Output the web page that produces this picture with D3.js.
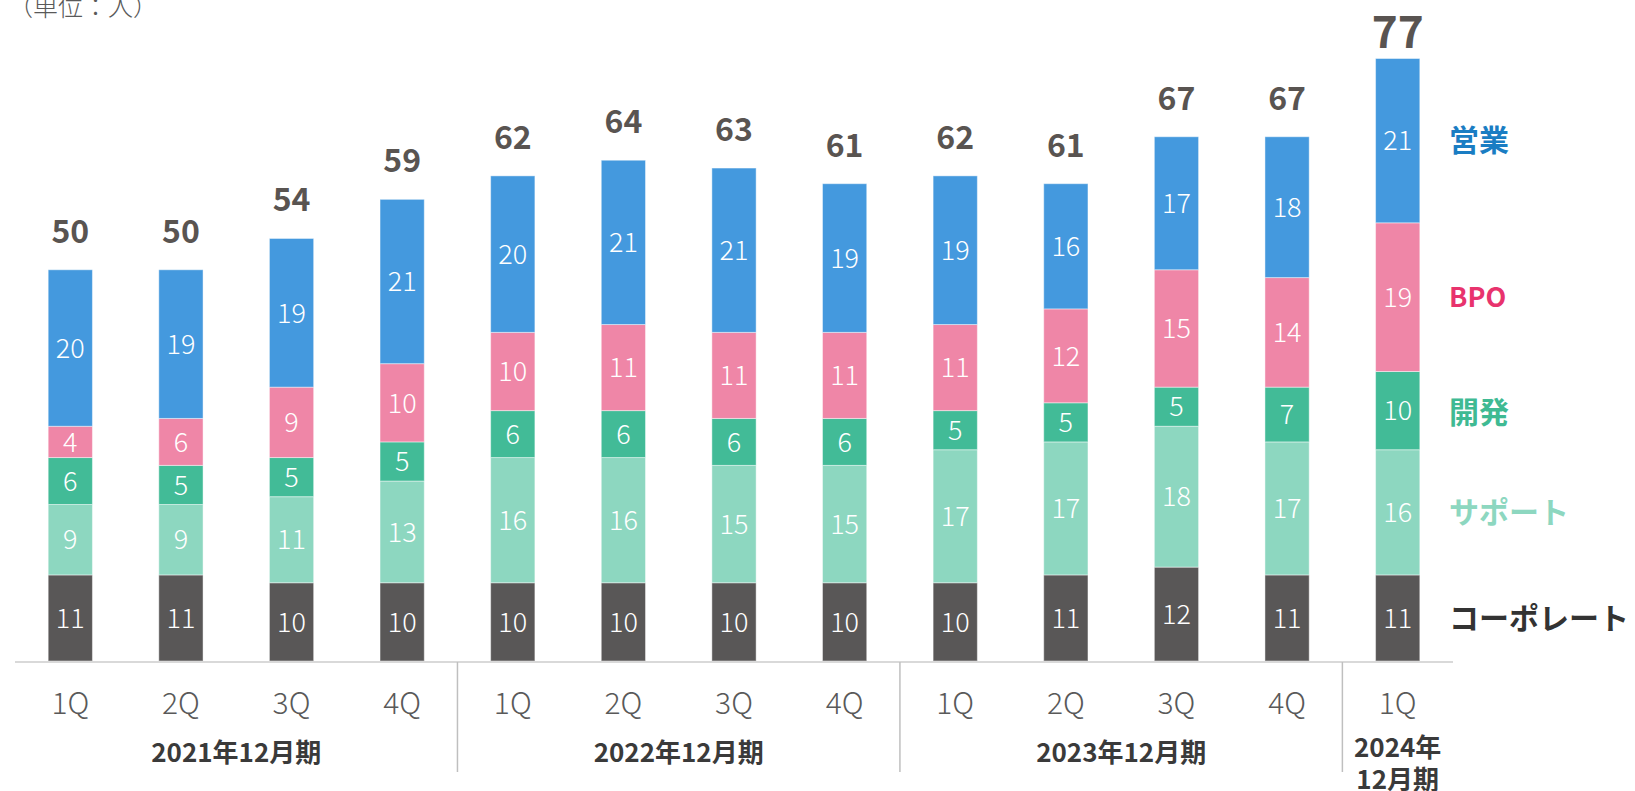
<!DOCTYPE html>
<html>
<head>
<meta charset="utf-8">
<script src="https://cdn.jsdelivr.net/npm/d3@7"></script>
<style>
  body { margin: 0; background: #fff; }
  text { font-family: "Noto Sans CJK JP", "Noto Sans", sans-serif; }
</style>
</head>
<body>
<script>
const quarters = ["1Q", "2Q", "3Q", "4Q", "1Q", "2Q", "3Q", "4Q", "1Q", "2Q", "3Q", "4Q", "1Q"]
const periods = [
    {label: ["2021年12月期"], from: 0, to: 3},
    {label: ["2022年12月期"], from: 4, to: 7},
    {label: ["2023年12月期"], from: 8, to: 11},
    {label: ["2024年", "12月期"], from: 12, to: 12}
]
const seriesNames = ["コーポレート", "サポート", "開発", "BPO", "営業"]
const corporate = [11, 11, 10, 10, 10, 10, 10, 10, 10, 11, 12, 11, 11]
const support   = [9, 9, 11, 13, 16, 16, 15, 15, 17, 17, 18, 17, 16]
const dev       = [6, 5, 5, 5, 6, 6, 6, 6, 5, 5, 5, 7, 10]
const bpo       = [4, 6, 9, 10, 10, 11, 11, 11, 11, 12, 15, 14, 19]
const sales     = [20, 19, 19, 21, 20, 21, 21, 19, 19, 16, 17, 18, 21]

const barColors = ["#595757", "#8dd7c0", "#42bb97", "#ef86a7", "#4499de"]
const legendColors = ["#333333", "#8dd7c0", "#3fba93", "#e8336d", "#1a7dc3"]

let width = 1635, height = 791

let svg = d3.select("body").append("svg")
    .attr("width", width)
    .attr("height", height)

// build rows for stacking
let rows = quarters.map(function (q, i) {
    return {i: i, "コーポレート": corporate[i], "サポート": support[i], "開発": dev[i], "BPO": bpo[i], "営業": sales[i]}
})
let stacked = d3.stack().keys(seriesNames)(rows)
let totals = rows.map(function (r) { return d3.sum(seriesNames, function (k) { return r[k] }) })

let x = d3.scaleBand()
    .domain(d3.range(quarters.length))
    .range([15, 1453])
    .paddingInner(0.6)
    .paddingOuter(0.3)

let y = d3.scaleLinear()
    .domain([0, 77])
    .range([661, 58.5])

// unit label
svg.append("text")
    .attr("x", 8)
    .attr("y", 16)
    .attr("font-size", 25)
    .attr("font-weight", 300)
    .attr("fill", "#595959")
    .text("（単位：人）")

// bars
let layers = svg.selectAll(".layer")
    .data(stacked)
    .enter()
    .append("g")
    .attr("class", "layer")
    .attr("fill", function (d, i) { return barColors[i] })

layers.selectAll("rect")
    .data(function (d) { return d })
    .enter()
    .append("rect")
    .attr("x", function (d, i) { return x(i) })
    .attr("y", function (d) { return y(d[1]) })
    .attr("width", x.bandwidth())
    .attr("height", function (d) { return y(d[0]) - y(d[1]) })
    .attr("stroke", "rgba(255,255,255,0.45)")
    .attr("stroke-width", 1)

// segment values
layers.selectAll("text")
    .data(function (d) { return d })
    .enter()
    .append("text")
    .attr("x", function (d, i) { return x(i) + x.bandwidth() / 2 })
    .attr("y", function (d) { return (y(d[0]) + y(d[1])) / 2 })
    .attr("dy", "0.36em")
    .attr("text-anchor", "middle")
    .attr("font-size", 27)
    .attr("font-weight", 300)
    .attr("fill", "#ffffff")
    .text(function (d) { return d[1] - d[0] })

// totals
svg.selectAll(".total")
    .data(totals)
    .enter()
    .append("text")
    .attr("class", "total")
    .attr("x", function (d, i) { return x(i) + x.bandwidth() / 2 })
    .attr("y", function (d, i) { return y(d) - (i === totals.length - 1 ? 11 : 27) })
    .attr("text-anchor", "middle")
    .attr("font-size", function (d, i) { return i === totals.length - 1 ? 44 : 32 })
    .attr("font-weight", 700)
    .attr("fill", "#595451")
    .text(function (d) { return d })

// baseline
svg.append("line")
    .attr("x1", 15).attr("x2", 1453)
    .attr("y1", y(0) + 1).attr("y2", y(0) + 1)
    .attr("stroke", "#d9d9d9")
    .attr("stroke-width", 2)

// quarter labels
svg.selectAll(".qlabel")
    .data(quarters)
    .enter()
    .append("text")
    .attr("class", "qlabel")
    .attr("x", function (d, i) { return x(i) + x.bandwidth() / 2 })
    .attr("y", 714)
    .attr("text-anchor", "middle")
    .attr("font-size", 30)
    .attr("font-weight", 300)
    .attr("fill", "#595959")
    .text(function (d) { return d })

// period separators
svg.selectAll(".sep")
    .data(periods.slice(1))
    .enter()
    .append("line")
    .attr("class", "sep")
    .attr("x1", function (d) { return x(d.from) - x.step() * x.paddingInner() / 2 })
    .attr("x2", function (d) { return x(d.from) - x.step() * x.paddingInner() / 2 })
    .attr("y1", y(0) + 1)
    .attr("y2", 772)
    .attr("stroke", "#bfbfbf")
    .attr("stroke-width", 1.5)

// period labels
let plabels = svg.selectAll(".plabel")
    .data(periods)
    .enter()
    .append("text")
    .attr("class", "plabel")
    .attr("text-anchor", "middle")
    .attr("font-size", 26)
    .attr("font-weight", 700)
    .attr("fill", "#3a3a3a")

plabels.selectAll("tspan")
    .data(function (d) {
        let cx = (x(d.from) + x(d.to) + x.bandwidth()) / 2
        return d.label.map(function (t, j) { return {t: t, cx: cx, n: d.label.length, j: j} })
    })
    .enter()
    .append("tspan")
    .attr("x", function (d) { return d.cx })
    .attr("y", function (d) { return d.n === 1 ? 762 : 757 + d.j * 32 })
    .text(function (d) { return d.t })

// legend at the right, next to the last bar
let legendY = [618, 512, 412, 297, 140]
svg.selectAll(".legend")
    .data(seriesNames)
    .enter()
    .append("text")
    .attr("class", "legend")
    .attr("x", 1449)
    .attr("y", function (d, i) { return legendY[i] })
    .attr("dy", "0.36em")
    .attr("font-size", function (d) { return d === "BPO" ? 27 : 30 })
    .attr("font-weight", 700)
    .attr("fill", function (d, i) { return legendColors[i] })
    .text(function (d) { return d })
</script>
</body>
</html>
